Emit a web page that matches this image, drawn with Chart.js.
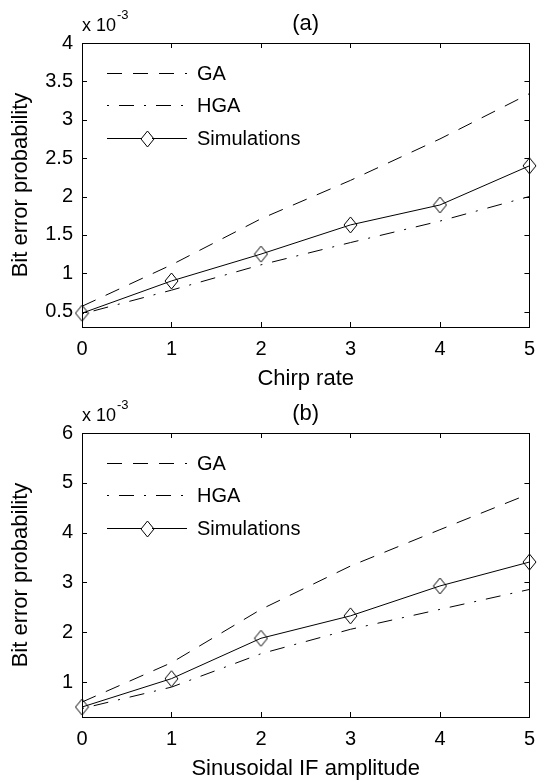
<!DOCTYPE html>
<html>
<head>
<meta charset="utf-8">
<script src="https://cdn.jsdelivr.net/npm/chart.js@4.4.1/dist/chart.umd.min.js"></script>
<style>
  html, body { margin: 0; padding: 0; background: #fff; }
  .panel { position: absolute; left: 0; width: 545px; height: 392px; }
  #panelA { top: 0; }
  #panelB { top: 390px; }
</style>
</head>
<body>
<div class="panel" id="panelA"><canvas id="chartA" width="545" height="392"></canvas></div>
<div class="panel" id="panelB"><canvas id="chartB" width="545" height="392"></canvas></div>
<script>
// x values (shared by both panels)
const xValues = [0, 1, 2, 3, 4, 5];
const xTicks = [0, 1, 2, 3, 4, 5];

// panel (a) - chirp rate, values in units of 1e-3
const gaA = [0.57, 1.11, 1.71, 2.21, 2.75, 3.34];
const hgaA = [0.47, 0.78, 1.11, 1.40, 1.68, 2.00];
const simA = [0.48, 0.90, 1.25, 1.63, 1.89, 2.40];
const yTicksA = [0.5, 1, 1.5, 2, 2.5, 3, 3.5, 4];

// panel (b) - sinusoidal IF amplitude, values in units of 1e-3
const gaB = [0.60, 1.39, 2.46, 3.33, 4.06, 4.78];
const hgaB = [0.47, 0.90, 1.57, 2.06, 2.46, 2.86];
const simB = [0.50, 1.07, 1.88, 2.33, 2.93, 3.41];
const yTicksB = [1, 2, 3, 4, 5, 6];

const FONT = "'Liberation Sans', Arial, Helvetica, sans-serif";
const FS = 20;      // tick labels and legend
const FS_LBL = 22;  // axis labels and title
const GA_DASH = [15, 11];
const HGA_DASH = [2, 10, 15, 10];

// hollow diamond marker, a bit taller than wide like the matlab one
function makeDiamond(w, h) {
    const c = document.createElement('canvas');
    c.width = w + 2; c.height = h + 2;
    const g = c.getContext('2d');
    const cx = c.width / 2, cy = c.height / 2;
    g.strokeStyle = '#000';
    g.lineWidth = 1;
    g.beginPath();
    g.moveTo(cx, cy - h / 2); g.lineTo(cx + w / 2, cy);
    g.lineTo(cx, cy + h / 2); g.lineTo(cx - w / 2, cy);
    g.closePath();
    g.stroke();
    return c;
}
const diamond = makeDiamond(13, 16);

// box round the plot area with inward ticks on all four sides
const frameBox = {
    id: 'frameBox',
    afterDraw(chart) {
        const ctx = chart.ctx;
        const ca = chart.chartArea;
        const xs = chart.scales.x;
        const ys = chart.scales.y;
        ctx.save();
        ctx.strokeStyle = '#000';
        ctx.lineWidth = 1;
        ctx.setLineDash([]);
        ctx.strokeRect(Math.round(ca.left) + 0.5, Math.round(ca.top) + 0.5,
            Math.round(ca.right - ca.left), Math.round(ca.bottom - ca.top));
        ctx.beginPath();
        xs.ticks.forEach(t => {
            const px = Math.round(xs.getPixelForValue(t.value)) + 0.5;
            ctx.moveTo(px, ca.bottom); ctx.lineTo(px, ca.bottom - 5);
            ctx.moveTo(px, ca.top); ctx.lineTo(px, ca.top + 5);
        });
        ys.ticks.forEach(t => {
            const py = Math.round(ys.getPixelForValue(t.value)) + 0.5;
            ctx.moveTo(ca.left, py); ctx.lineTo(ca.left + 5, py);
            ctx.moveTo(ca.right, py); ctx.lineTo(ca.right - 5, py);
        });
        ctx.stroke();

        // title and exponent note
        const opts = chart.options.plugins.frameBox;
        ctx.fillStyle = '#000';
        ctx.font = FS_LBL + 'px ' + FONT;
        ctx.textAlign = 'center';
        ctx.textBaseline = 'alphabetic';
        ctx.fillText(opts.title, (ca.left + ca.right) / 2, 30);
        ctx.textAlign = 'left';
        ctx.font = '18px ' + FONT;
        ctx.fillText('x 10', ca.left, 31);
        const w = ctx.measureText('x 10').width;
        ctx.font = '13px ' + FONT;
        ctx.fillText('-3', ca.left + w + 1, 19);
        ctx.restore();
    }
};

// legend drawn inside the plot area, top-left
const innerLegend = {
    id: 'innerLegend',
    afterDraw(chart) {
        const ctx = chart.ctx;
        const x0 = 107, x1 = 187, tx = 197;
        const rows = [73, 105, 138];
        ctx.save();
        ctx.font = FS + 'px ' + FONT;
        ctx.fillStyle = '#000';
        ctx.textBaseline = 'middle';
        chart.data.datasets.forEach((ds, i) => {
            const y = rows[i] + 0.5;
            ctx.strokeStyle = '#000';
            ctx.lineWidth = 1;
            ctx.setLineDash(ds.borderDash || []);
            ctx.beginPath();
            ctx.moveTo(x0, y); ctx.lineTo(x1, y);
            ctx.stroke();
            ctx.setLineDash([]);
            if (ds.pointStyle) {
                const cx = (x0 + x1) / 2;
                ctx.fillStyle = '#fff';
                ctx.fillRect(cx - 5, y - 4, 10, 8);
                ctx.drawImage(ds.pointStyle, Math.round(cx - ds.pointStyle.width / 2), Math.round(y - ds.pointStyle.height / 2));
                ctx.fillStyle = '#000';
            }
            ctx.fillText(ds.label, tx, rows[i] + 1);
        });
        ctx.restore();
    }
};

function makeChart(id, ga, hga, sim, yTicks, yMin, yMax, xTitle, title) {
    const ctx = document.getElementById(id).getContext('2d');
    return new Chart(ctx, {
        type: 'line',
        data: {
            datasets: [{
                label: 'GA',
                data: xValues.map((x, i) => ({ x: x, y: ga[i] })),
                borderColor: '#000',
                borderWidth: 1,
                borderDash: GA_DASH,
                pointRadius: 0,
                fill: false,
                tension: 0,
                clip: false
            }, {
                label: 'HGA',
                data: xValues.map((x, i) => ({ x: x, y: hga[i] })),
                borderColor: '#000',
                borderWidth: 1,
                borderDash: HGA_DASH,
                pointRadius: 0,
                fill: false,
                tension: 0,
                clip: false
            }, {
                label: 'Simulations',
                data: xValues.map((x, i) => ({ x: x, y: sim[i] })),
                borderColor: '#000',
                borderWidth: 1,
                pointStyle: diamond,
                pointRadius: 8,
                fill: false,
                tension: 0,
                clip: false
            }]
        },
        options: {
            responsive: false,
            animation: false,
            events: [],
            layout: { padding: { left: 0, right: 10, top: 43, bottom: 0 } },
            plugins: {
                legend: { display: false },
                title: { display: false },
                tooltip: { enabled: false },
                frameBox: { title: title }
            },
            scales: {
                x: {
                    type: 'linear',
                    min: 0,
                    max: 5,
                    afterBuildTicks: s => { s.ticks = xTicks.map(v => ({ value: v })); },
                    afterFit: s => { s.height = 392 - 327; },
                    grid: { display: false, drawTicks: false },
                    border: { display: false },
                    ticks: { color: '#000', padding: 10, font: { family: FONT, size: FS }, callback: v => String(v) },
                    title: {
                        display: true,
                        text: xTitle,
                        color: '#000',
                        padding: { top: 3, bottom: 0 },
                        font: { family: FONT, size: FS_LBL }
                    }
                },
                y: {
                    type: 'linear',
                    min: yMin,
                    max: yMax,
                    afterBuildTicks: s => { s.ticks = yTicks.map(v => ({ value: v })); },
                    afterFit: s => { s.width = 82; },
                    grid: { display: false, drawTicks: false },
                    border: { display: false },
                    ticks: { color: '#000', padding: 9, font: { family: FONT, size: FS }, callback: v => String(v) },
                    title: {
                        display: true,
                        text: 'Bit error probability',
                        color: '#000',
                        padding: { top: 8, bottom: 0 },
                        font: { family: FONT, size: FS_LBL }
                    }
                }
            }
        },
        plugins: [frameBox, innerLegend]
    });
}

makeChart('chartA', gaA, hgaA, simA, yTicksA, 0.3, 4, 'Chirp rate', '(a)');
makeChart('chartB', gaB, hgaB, simB, yTicksB, 0.3, 6, 'Sinusoidal IF amplitude', '(b)');
</script>
</body>
</html>
